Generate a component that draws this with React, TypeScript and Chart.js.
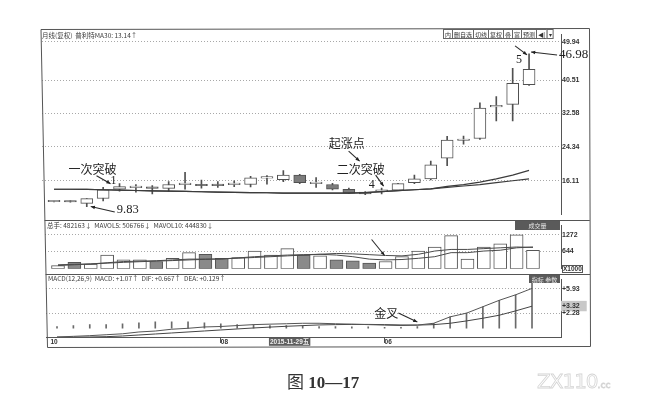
import React, { useEffect, useRef } from 'react';
import { Chart, registerables } from 'chart.js';

Chart.register(...registerables);
Chart.defaults.font.family = '"Liberation Sans", "Noto Sans CJK SC", sans-serif';

// ---------- data (monthly candles, index 0 = Oct) ----------
const opens = [11.0, 11.2, 10.6, 11.8, 14.05, 14.45, 14.3, 14.27, 15.15, 15.05, 14.98, 15.15, 15.2, 16.75, 16.35, 17.5, 15.4, 15.2, 14.05, 13.35, 13.55, 13.8, 15.65, 16.57, 21.6, 25.9, 26.4, 34.1, 34.7, 39.5];
const closes = [11.1, 10.95, 11.75, 13.9, 14.7, 14.55, 14.25, 15.19, 15.25, 14.9, 14.92, 15.25, 16.8, 16.85, 17.5, 15.65, 15.5, 14.05, 13.1, 12.9, 13.65, 15.4, 16.57, 20.0, 26.0, 26.1, 33.8, 34.3, 39.8, 43.2];
const highs = [11.15, 11.25, 11.8, 14.5, 15.4, 15.2, 14.96, 15.88, 18.18, 16.3, 15.9, 16.1, 17.2, 17.4, 18.6, 17.7, 16.9, 15.5, 14.3, 13.5, 14.3, 15.5, 17.5, 20.9, 26.9, 27.0, 35.1, 36.6, 43.5, 46.98];
const lows = [10.95, 10.9, 9.83, 11.2, 13.6, 13.35, 12.9, 13.58, 14.04, 14.3, 14.5, 14.7, 14.6, 15.3, 15.9, 15.4, 14.5, 13.9, 12.95, 12.7, 12.9, 13.7, 15.4, 16.3, 19.8, 25.0, 26.2, 30.7, 30.7, 39.3];
const maFast = [14.04, 14.04, 13.99, 13.92, 13.81, 13.74, 13.67, 13.58, 13.51, 13.44, 13.35, 13.28, 13.23, 13.19, 13.12, 13.12, 13.12, 13.12, 13.12, 13.23, 13.46, 13.69, 13.92, 14.15, 14.73, 15.19, 15.76, 16.57, 17.49, 18.64];
const maSlow = [14.04, 14.04, 13.99, 13.92, 13.81, 13.74, 13.67, 13.58, 13.51, 13.44, 13.35, 13.28, 13.23, 13.19, 13.12, 13.12, 13.12, 13.12, 13.12, 13.23, 13.46, 13.69, 13.92, 14.15, 14.5, 14.84, 15.19, 15.65, 16.11, 16.57];

const volumes = [120, 240, 180, 510, 330, 330, 270, 390, 600, 540, 390, 420, 660, 510, 750, 510, 480, 330, 300, 210, 270, 450, 660, 810, 1230, 360, 810, 930, 1260, 690];
const volMa5 = [120, 150, 180, 225, 270, 285, 300, 330, 360, 360, 360, 405, 450, 480, 510, 525, 540, 510, 450, 360, 330, 345, 390, 450, 600, 600, 660, 690, 780, 810];
const volMa10 = [150, 165, 180, 210, 240, 264, 285, 306, 330, 351, 375, 396, 420, 450, 480, 510, 540, 570, 555, 525, 495, 480, 540, 660, 720, 720, 750, 780, 810, 795];

const dif = [-1.3, -1.2, -1.1, -0.96, -0.82, -0.55, -0.41, -0.14, 0.0, 0.2, 0.27, 0.41, 0.55, 0.62, 0.68, 0.75, 0.75, 0.68, 0.62, 0.55, 0.48, 0.41, 0.48, 0.75, 1.71, 2.26, 3.22, 4.18, 5.0, 5.96];
const dea = [-1.32, -1.32, -1.3, -1.25, -1.15, -1.0, -0.85, -0.7, -0.55, -0.4, -0.25, -0.1, 0.05, 0.18, 0.3, 0.4, 0.5, 0.55, 0.58, 0.58, 0.55, 0.5, 0.48, 0.55, 0.75, 1.1, 1.5, 1.95, 2.6, 3.3];
const macdHist = [0.27, 0.41, 0.55, 0.55, 0.68, 0.82, 0.96, 0.96, 0.96, 0.82, 0.68, 0.55, 0.55, 0.41, 0.41, 0.41, 0.27, 0.27, 0.2, 0.2, 0.14, 0.14, 0.27, 0.75, 1.71, 2.26, 3.22, 4.18, 5.0, 6.9];

const priceTicks = [49.94, 40.51, 32.58, 24.34, 16.11];
const priceTickLabels = ['49.94', '40.51', '32.58', '24.34', '16.11'];
const volumeTicks = [1272, 644];
const volumeTickLabels = ['1272', '644'];
const macdTicks = [5.93, 3.32, 2.28];
const macdTickLabels = ['+5.93', '+3.32', '+2.28'];
const dateTickPos = [-0.4, 10, 13, 20];
const dateTickLabels = ['10', '08', '2015-11-29五', '06'];

const priceHeader = '月线(复权)  普利特MA30: 13.14↑';
const volumeHeader = '总手: 482163↓  MAVOL5: 506766↓  MAVOL10: 444830↓';
const macdHeader = 'MACD(12,26,9)  MACD: +1.07↑  DIF: +0.667↑  DEA: +0.129↑';
const toolButtons = ['内', '删自选', '切线', '复权', '叠', '富', '预测', '◀|', '▾'];

// ---------- helpers ----------
const CJK = '"Noto Sans CJK SC", sans-serif';
const SERIF = '"Liberation Serif", serif';
const isUp = (i: number) => closes[i] >= opens[i];
const pts = (arr: number[]) => arr.map((v, i) => ({ x: i, y: v }));

function arrow(ctx: any, x1: number, y1: number, x2: number, y2: number, head = 4.5) {
  ctx.beginPath();
  ctx.moveTo(x1, y1);
  ctx.lineTo(x2, y2);
  ctx.stroke();
  const a = Math.atan2(y2 - y1, x2 - x1);
  ctx.beginPath();
  ctx.moveTo(x2, y2);
  ctx.lineTo(x2 - head * Math.cos(a - 0.4), y2 - head * Math.sin(a - 0.4));
  ctx.lineTo(x2 - head * Math.cos(a + 0.4), y2 - head * Math.sin(a + 0.4));
  ctx.closePath();
  ctx.fill();
}

function label(ctx: any, text: string, x: number, y: number, font: string, align = 'center') {
  ctx.font = font;
  ctx.textAlign = align;
  ctx.textBaseline = 'middle';
  ctx.fillText(text, x, y);
}

function darkBox(ctx: any, text: string, x: number, y: number, w: number, h: number) {
  ctx.fillStyle = '#5a5a5a';
  ctx.fillRect(x, y, w, h);
  ctx.fillStyle = '#e8e8e8';
  label(ctx, text, x + w / 2, y + h / 2 + 0.5, `6px ${CJK}`);
}

const indexAxis = (min: number, max: number, extra: any = {}) => ({
  type: 'linear',
  display: false,
  min,
  max,
  bounds: 'data',
  offset: false,
  grid: { offset: false },
  ...extra,
});

const rightAxis = (min: number, max: number, ticks: number[], labels: string[], extra: any = {}) => ({
  type: 'linear',
  position: 'right',
  min,
  max,
  bounds: 'data',
  afterBuildTicks: (s: any) => { s.ticks = ticks.map((v) => ({ value: v })); },
  afterFit: (s: any) => { s.width = 89; },
  ticks: {
    callback: (_v: any, i: number) => labels[i],
    font: { size: 7, weight: 'bold' },
    color: '#333',
    padding: 1,
    ...(extra.ticks || {}),
  },
  grid: { drawTicks: false, color: '#a8a8a8', lineWidth: 1, ...(extra.grid || {}) },
  border: { display: true, color: '#555', width: 1, dash: [1, 2] },
});

const baseOptions = (padLeft: number) => ({
  animation: false,
  responsive: false,
  devicePixelRatio: 1,
  layout: { autoPadding: false, padding: { left: padLeft, right: 0, top: 0, bottom: 0 } },
  plugins: { legend: { display: false }, tooltip: { enabled: false } },
});

// ---------- overlays ----------
const priceOverlay = {
  id: 'priceOverlay',
  afterDraw(chart: any) {
    const { ctx } = chart;
    const X = (i: number) => chart.scales.x.getPixelForValue(i);
    const Y = (v: number) => chart.scales.y.getPixelForValue(v);
    ctx.save();
    ctx.fillStyle = '#3a3a3a';
    label(ctx, priceHeader, 42, 7, `6.5px ${CJK}`, 'left');

    let bx = 443;
    for (const t of toolButtons) {
      ctx.font = `6px ${CJK}`;
      const w = ctx.measureText(t).width + 3;
      ctx.fillStyle = '#fff';
      ctx.fillRect(bx, 0.5, w, 9);
      ctx.strokeStyle = '#666';
      ctx.lineWidth = 1;
      ctx.strokeRect(bx + 0.5, 0.5, w, 9);
      ctx.fillStyle = '#333';
      label(ctx, t, bx + w / 2 + 0.5, 5.5, `6px ${CJK}`);
      bx += w;
    }

    ctx.strokeStyle = '#2a2a2a';
    ctx.fillStyle = '#222';
    ctx.lineWidth = 1.1;

    const a = { x: X(4), y: Y(highs[4]) };
    label(ctx, '一次突破', a.x - 27, a.y - 14, `12px ${CJK}`);
    arrow(ctx, a.x - 23, a.y - 8, a.x - 9, a.y);
    label(ctx, '1', a.x - 6, a.y - 3, `12px ${SERIF}`);

    const b = { x: X(2), y: Y(lows[2]) };
    label(ctx, '9.83', b.x + 30, b.y + 3.5, `12.5px ${SERIF}`, 'left');
    arrow(ctx, b.x + 28, b.y + 5.5, b.x + 4, b.y);

    const c = { x: X(20), y: Y(highs[20]) };
    label(ctx, '起涨点', c.x - 35, c.y - 45, `12px ${CJK}`);
    arrow(ctx, c.x - 33, c.y - 37, c.x - 22, c.y - 27);
    label(ctx, '二次突破', c.x - 21, c.y - 19, `12px ${CJK}`);
    arrow(ctx, c.x - 6, c.y - 13, c.x + 2, c.y - 2);
    label(ctx, '4', c.x - 10, c.y - 3, `12px ${SERIF}`);

    const d = { x: X(29), y: Y(highs[29]) };
    label(ctx, '5', d.x - 10, d.y + 5.5, `12px ${SERIF}`);
    arrow(ctx, d.x - 14, d.y - 8, d.x - 2, d.y + 1);
    label(ctx, '46.98', d.x + 30, d.y + 0.5, `13px ${SERIF}`, 'left');
    arrow(ctx, d.x + 28, d.y + 1, d.x + 2, d.y - 2);
    ctx.restore();
  },
};

const volumeOverlay = {
  id: 'volumeOverlay',
  afterDraw(chart: any) {
    const { ctx } = chart;
    const X = (i: number) => chart.scales.x.getPixelForValue(i);
    const Y = (v: number) => chart.scales.y.getPixelForValue(v);
    ctx.save();
    ctx.fillStyle = '#3a3a3a';
    label(ctx, volumeHeader, 47, 6, `6.5px ${CJK}`, 'left');
    darkBox(ctx, '成交量', 515, 1, 45, 9);
    ctx.strokeStyle = '#555';
    ctx.lineWidth = 1;
    ctx.strokeRect(562.5, 45.5, 20, 7);
    ctx.fillStyle = '#333';
    label(ctx, 'X1000', 563, 49.5, 'bold 6.5px "Liberation Sans"', 'left');
    const e = { x: X(20), y: Y(volMa10[20]) };
    ctx.strokeStyle = '#2a2a2a';
    ctx.fillStyle = '#222';
    ctx.lineWidth = 1.1;
    arrow(ctx, e.x - 14, e.y - 16, e.x - 1, e.y);
    ctx.restore();
  },
};

const macdOverlay = {
  id: 'macdOverlay',
  afterDraw(chart: any) {
    const { ctx } = chart;
    const X = (i: number) => chart.scales.x.getPixelForValue(i);
    const Y = (v: number) => chart.scales.y.getPixelForValue(v);
    ctx.save();
    ctx.fillStyle = '#3a3a3a';
    label(ctx, macdHeader, 48, 5, `6.5px ${CJK}`, 'left');
    darkBox(ctx, '指标 参数', 529, 1, 31, 8);
    const f = { x: X(22), y: Y(dif[22]) };
    ctx.strokeStyle = '#2a2a2a';
    ctx.fillStyle = '#222';
    ctx.lineWidth = 1.1;
    label(ctx, '金叉', f.x - 31, f.y - 12, `12px ${CJK}`);
    arrow(ctx, f.x - 19, f.y - 12, f.x, f.y - 3);
    ctx.restore();
  },
};

// ---------- configs ----------
function priceConfig(): any {
  return {
    type: 'bar',
    data: {
      datasets: [
        { type: 'line', data: pts(maFast), borderColor: '#3c3c3c', borderWidth: 1.2, pointRadius: 0, order: 0 },
        { type: 'line', data: pts(maSlow), borderColor: '#3c3c3c', borderWidth: 1.2, pointRadius: 0, order: 0 },
        {
          type: 'bar',
          data: opens.map((o, i) => ({ x: i, y: [o, closes[i]] })),
          barThickness: 12,
          minBarLength: 1.5,
          grouped: false,
          backgroundColor: (c: any) => (isUp(c.dataIndex) ? '#ffffff' : '#7c7c7c'),
          borderColor: '#505050',
          borderWidth: 1,
          borderSkipped: false,
          order: 1,
        },
        {
          type: 'bar',
          data: lows.map((l, i) => ({ x: i, y: [l, highs[i]] })),
          barThickness: 1,
          grouped: false,
          backgroundColor: '#505050',
          order: 2,
        },
      ],
    },
    options: {
      ...baseOptions(42),
      scales: {
        x: indexAxis(-0.733, 30.95),
        y: rightAxis(7.825, 51.78, priceTicks, priceTickLabels),
      },
    },
    plugins: [priceOverlay],
  };
}

function volumeConfig(): any {
  return {
    type: 'bar',
    data: {
      datasets: [
        { type: 'line', data: pts(volMa5), borderColor: '#4a4a4a', borderWidth: 1, pointRadius: 0, order: 0 },
        { type: 'line', data: pts(volMa10), borderColor: '#4a4a4a', borderWidth: 1, pointRadius: 0, order: 0 },
        {
          type: 'bar',
          data: pts(volumes),
          barThickness: 13,
          grouped: false,
          backgroundColor: (c: any) => (isUp(c.dataIndex) ? '#ffffff' : '#8a8a8a'),
          borderColor: '#555',
          borderWidth: 1,
          borderSkipped: false,
          order: 1,
        },
      ],
    },
    options: {
      ...baseOptions(45),
      scales: {
        x: indexAxis(-0.794, 30.71),
        y: rightAxis(0, 1620, volumeTicks, volumeTickLabels),
      },
    },
    plugins: [volumeOverlay],
  };
}

function macdConfig(): any {
  return {
    type: 'bar',
    data: {
      datasets: [
        { type: 'line', data: pts(dif), borderColor: '#555', borderWidth: 1, pointRadius: 0, order: 0 },
        { type: 'line', data: pts(dea), borderColor: '#444', borderWidth: 1, pointRadius: 0, order: 0 },
        { type: 'bar', data: pts(macdHist), barThickness: 1, grouped: false, backgroundColor: '#6a6a6a', order: 1 },
      ],
    },
    options: {
      ...baseOptions(46),
      scales: {
        x: indexAxis(-0.672, 30.77, {
          display: true,
          position: 'bottom',
          afterBuildTicks: (s: any) => { s.ticks = dateTickPos.map((v) => ({ value: v })); },
          afterFit: (s: any) => { s.height = 10; },
          ticks: {
            autoSkip: false,
            maxRotation: 0,
            align: 'start',
            padding: -5,
            font: { size: 6.5, weight: 'bold' },
            color: (c: any) => (c.index === 2 ? '#eeeeee' : '#333'),
            showLabelBackdrop: (c: any) => c.index === 2,
            backdropColor: '#5e5e5e',
            backdropPadding: { left: 1, right: 1, top: 0, bottom: 0 },
            callback: (_v: any, i: number) => dateTickLabels[i],
          },
          grid: {
            offset: false,
            drawOnChartArea: false,
            drawTicks: true,
            tickLength: 6,
            color: (c: any) => (c.index === 1 || c.index === 3 ? '#555' : 'rgba(0,0,0,0)'),
          },
          border: { display: true, color: '#555', width: 1 },
        }),
        y: rightAxis(-1.3, 7.33, macdTicks, macdTickLabels, {
          ticks: {
            showLabelBackdrop: (c: any) => c.index === 1,
            backdropColor: '#c8c8c8',
            backdropPadding: { left: 1, right: 7, top: 1, bottom: 1 },
          },
          grid: { color: (c: any) => (c.index === 1 ? 'rgba(0,0,0,0)' : '#a8a8a8') },
        }),
      },
    },
    plugins: [macdOverlay],
  };
}

export default function App() {
  const priceRef = useRef<HTMLCanvasElement>(null);
  const volRef = useRef<HTMLCanvasElement>(null);
  const macdRef = useRef<HTMLCanvasElement>(null);

  useEffect(() => {
    const charts = [
      new Chart(priceRef.current as HTMLCanvasElement, priceConfig()),
      new Chart(volRef.current as HTMLCanvasElement, volumeConfig()),
      new Chart(macdRef.current as HTMLCanvasElement, macdConfig()),
    ];
    return () => charts.forEach((c) => c.destroy());
  }, []);

  const abs = (top: number): React.CSSProperties => ({ position: 'absolute', left: 0, top });

  return (
    <div style={{ position: 'absolute', left: 0, top: 0, width: 650, height: 405, background: '#ffffff', overflow: 'hidden' }}>
      <canvas ref={priceRef} width={650} height={191} style={abs(29)} />
      <canvas ref={volRef} width={650} height={54} style={abs(220)} />
      <canvas ref={macdRef} width={650} height={73} style={abs(274)} />
      <svg width={650} height={405} style={{ position: 'absolute', left: 0, top: 0, pointerEvents: 'none' }}>
        <polygon points="41,29.5 589.5,28.5 590.5,346.5 47.5,347.5" fill="none" stroke="#555" strokeWidth={1} />
        <line x1={44.6} y1={220.5} x2={589.8} y2={220.5} stroke="#555" strokeWidth={1} />
        <line x1={45.6} y1={274.5} x2={590} y2={274.5} stroke="#555" strokeWidth={1} />
      </svg>
      <div style={{ position: 'absolute', left: 287, top: 370, fontSize: 17, lineHeight: '22px', color: '#333', whiteSpace: 'nowrap' }}>
        <span style={{ fontFamily: CJK }}>图</span>
        <span style={{ fontFamily: SERIF, fontWeight: 'bold' }}> 10—17</span>
      </div>
      <div style={{ position: 'absolute', left: 537, top: 369, whiteSpace: 'nowrap', color: 'transparent', WebkitTextStroke: '0.8px #d4d4d4', fontFamily: '"DejaVu Sans", sans-serif' }}>
        <span style={{ fontSize: 20, letterSpacing: -1 }}>ZX110</span>
        <span style={{ fontSize: 9 }}>.cc</span>
      </div>
    </div>
  );
}
